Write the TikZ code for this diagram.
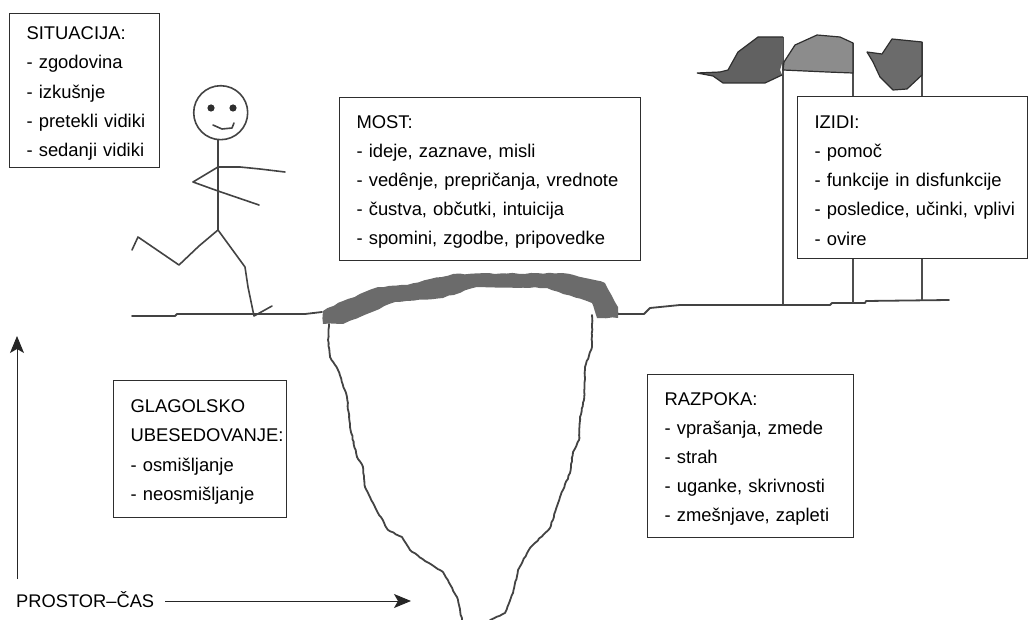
\documentclass[tikz,border=0pt]{standalone}
\usepackage{fontspec}
\setmainfont{Liberation Sans}
\usetikzlibrary{arrows.meta,decorations.pathmorphing}
\pgfmathsetseed{7}
\definecolor{ink}{HTML}{2E2E2E}
\newcommand{\boxtext}[3]{\hspace*{#1}\raisebox{-3pt}[\height][\depth]{\parbox{#2}{\raggedright #3}}}
\tikzset{
  x=1pt,y=-1pt,
  infobox/.style={draw=ink,line width=1.1pt,fill=white,anchor=north west,align=left,inner sep=0pt,
    font=\fontsize{18.4}{29.2}\selectfont},
  sketch/.style={draw=ink!90,line width=1.6pt,line join=round,line cap=round},
  ground/.style={sketch,line width=1.8pt},
  crack/.style={sketch,line width=1.8pt,decorate,decoration={random steps,segment length=3pt,amplitude=.4pt}},
  rough/.style={decorate,decoration={random steps,segment length=6pt,amplitude=.7pt}},
  flag/.style={draw=ink,line width=1.2pt,line join=round},
  pole/.style={draw=ink!85,line width=1.5pt},
  axis/.style={draw=black!85,line width=1pt,-{Stealth[length=17pt,width=14pt,inset=4pt]}}
}
\begin{document}
\begin{tikzpicture}
\useasboundingbox (0,0) rectangle (1036,620);
% ground
\draw[ground] (132,316) -- (175,316) -- (177,314) -- (305,314) -- (322,312);
\draw[ground] (617,314) -- (644,314) -- (650,308) -- (680,305) -- (830,305) -- (832,303) -- (865,303) -- (866,301) -- (949,300);
% poles
\draw[pole] (783,37) -- (783,304);
\draw[pole] (853,43) -- (853,303);
\draw[pole] (922,42) -- (922,300);
% flags
\fill[black!62] (697,73) -- (720,72) -- (728,70) -- (738,52) -- (758,37) -- (783,37) -- (783,60) -- (780,70) -- (782,75) -- (765,83) -- (723,83) -- (713,76) -- cycle;
\draw[flag] (697,73) -- (720,72) -- (728,70) -- (738,52) -- (758,37) -- (783,37) (782,75) -- (765,83) -- (723,83) -- (713,76) -- (697,73);
\fill[black!45] (783,70) -- (784,62) -- (795,45) -- (817,35) -- (840,37) -- (853,43) -- (853,73) -- (827,72) -- cycle;
\draw[flag] (783,70) -- (784,62) -- (795,45) -- (817,35) -- (840,37) -- (853,43) -- (853,73) -- (827,72) -- cycle;
\fill[black!58] (867,52) -- (882,54) -- (892,39) -- (922,42) -- (922,75) -- (907,89) -- (893,90) -- (880,77) -- (873,62) -- cycle;
\draw[flag] (867,52) -- (882,54) -- (892,39) -- (922,42) -- (922,75) -- (907,89) -- (893,90) -- (880,77) -- (873,62) -- cycle;
% chasm
\draw[crack] (329,324) -- (328,340) -- (330,357) -- (338,370) -- (347,397) -- (350,427) -- (357,457) -- (363,467) -- (365,487) -- (375,507) -- (388,530) -- (402,537) -- (410,550) -- (425,561) -- (443,572) -- (457,597) -- (462,620);
\draw[crack] (592,315) -- (592,347) -- (585,367) -- (584,400) -- (580,417) -- (579,440) -- (573,452) -- (570,473) -- (560,497) -- (550,528) -- (530,548) -- (518,570) -- (513,593) -- (505,613) -- (490,620);
% bridge
\fill[black!58,rough] (323,311) -- (343,301) -- (378,287) -- (407,285) -- (430,279) -- (453,274) -- (562,273) -- (590,279) -- (605,283) -- (612,296) -- (618,307) -- (618,318) -- (597,318) -- (592,303) -- (547,288) -- (477,287) -- (443,298) -- (395,302) -- (343,324) -- (323,324) -- cycle;
% stick figure
\draw[sketch] (220.7,112.7) circle (27);
\fill[ink] (211,108) circle (3.6) (233,108) circle (3.6);
\draw[sketch] (213,125) -- (222,129) -- (232,128) -- (234,123);
\draw[sketch] (218,140) -- (218,230);
\draw[sketch] (218,167) -- (240,167) -- (260,169) -- (285,172);
\draw[sketch] (218,167) -- (193,182) -- (218,191) -- (259,205);
\draw[sketch] (132,250) -- (138,237) -- (179,265) -- (199,246) -- (218,230) -- (245,267) -- (248,287) -- (254,316) -- (272,306);
% boxes
\node[infobox,minimum width=150pt,minimum height=154pt,text width=150pt] (situacija) at (9,13) {\boxtext{17pt}{133pt}{SITUACIJA:\\- zgodovina\\- izkušnje\\- pretekli vidiki\\- sedanji vidiki}};
\node[infobox,minimum width=301pt,minimum height=163pt,text width=301pt] (most) at (339,97) {\boxtext{17pt}{284pt}{MOST:\\- ideje, zaznave, misli\\- vedênje, prepričanja, vrednote\\- čustva, občutki, intuicija\\- spomini, zgodbe, pripovedke}};
\node[infobox,minimum width=230pt,minimum height=162pt,text width=230pt] (izidi) at (797,96) {\boxtext{17pt}{213pt}{IZIDI:\\- pomoč\\- funkcije in disfunkcije\\- posledice, učinki, vplivi\\- ovire}};
\node[infobox,minimum width=173pt,minimum height=137pt,text width=173pt] (glagolsko) at (113,380) {\boxtext{17pt}{156pt}{GLAGOLSKO\\UBESEDOVANJE:\\- osmišljanje\\- neosmišljanje}};
\node[infobox,minimum width=206pt,minimum height=163pt,text width=206pt] (razpoka) at (647,374) {\boxtext{17pt}{189pt}{RAZPOKA:\\- vprašanja, zmede\\- strah\\- uganke, skrivnosti\\- zmešnjave, zapleti}};
% axes
\node[anchor=west,inner sep=0pt,font=\fontsize{18.3}{22}\selectfont] (prostor) at (16,600) {PROSTOR–ČAS};
\coordinate (axisStart) at (17,579);
\coordinate (axisTop) at (17,336);
\coordinate (timeEnd) at (411,601);
\draw[axis] (axisStart) -- (axisTop);
\draw[axis] (prostor.east |- timeEnd) ++(11,0) -- (timeEnd);
\end{tikzpicture}
\end{document}
